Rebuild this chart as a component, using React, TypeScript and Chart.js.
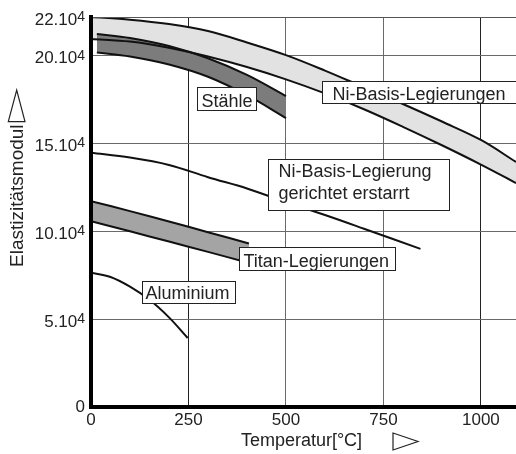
import React, { useEffect, useRef } from 'react';
import { Chart, registerables } from 'chart.js';

Chart.register(...registerables);

const FONT = '"Liberation Sans", Arial, Helvetica, sans-serif';

// ---- data: temperature (°C) and Young's modulus (N/mm²) ----
const STAHL_T = [15, 100, 200, 300, 400, 500];
const STAHL_MAX = [212300, 210000, 205500, 198500, 189000, 177000];
const STAHL_MIN = [201800, 199500, 195000, 188000, 177500, 164500];

const NI_T = [0, 100, 200, 300, 400, 500, 600, 700, 800, 900, 1000, 1090];
const NI_MAX = [222000, 220500, 218000, 214000, 207500, 200300, 191500, 182000, 172500, 162500, 152000, 139500];
const NI_MIN = [209500, 208000, 204500, 199500, 193500, 186500, 178500, 169500, 159500, 149000, 138000, 127500];

const NIDS_T = [0, 100, 200, 300, 400, 500, 600, 700, 845];
const NIDS_E = [144700, 142000, 137800, 130800, 124400, 116600, 109300, 101500, 90000];

const TI_T = [0, 100, 200, 300, 405];
const TI_MAX = [117200, 111500, 105600, 99500, 93100];
const TI_MIN = [105800, 100000, 94200, 88300, 82000];

const AL_T = [0, 50, 100, 150, 200, 248];
const AL_E = [76400, 74000, 68500, 61000, 51000, 39300];

const X_TICKS = [0, 250, 500, 750, 1000];
const Y_TICKS = [0, 50000, 100000, 150000, 200000, 222000];
const X_MAX = 1090;
const Y_MAX = 222000;

const X_TITLE = 'Temperatur[°C]';
const Y_TITLE = 'Elastizitätsmodul';

// label boxes (anchored at top-left corner, in data coordinates)
const LABEL_BOXES = [
  { text: ['Stähle'], x: 272, y: 182000, w: 59, h: 23, padL: 4, base: 19 },
  { text: ['Ni-Basis-Legierungen'], x: 592, y: 185600, w: 200, h: 22, padL: 10, base: 18 },
  { text: ['Ni-Basis-Legierung', 'gerichtet erstarrt'], x: 455, y: 141000, w: 181, h: 51, padL: 10, base: 17 },
  { text: ['Titan-Legierungen'], x: 380, y: 91000, w: 156, h: 23, padL: 4, base: 19 },
  { text: ['Aluminium'], x: 131, y: 71700, w: 93, h: 22, padL: 3, base: 17 },
];

const pts = (xs: number[], ys: number[]) => xs.map((x, i) => ({ x, y: ys[i] }));

const lineBase = {
  xAxisID: 'x',
  yAxisID: 'y',
  borderColor: '#111',
  borderWidth: 2,
  pointRadius: 0,
  tension: 0.35,
  fill: false as any,
};

const decorPlugin = {
  id: 'decor',
  afterDraw(chart: any) {
    const { ctx, scales } = chart;
    const xs = scales.x;
    const ys = scales.y;
    ctx.save();
    // y tick labels with exponent
    ctx.fillStyle = '#222';
    ctx.textAlign = 'right';
    ctx.textBaseline = 'alphabetic';
    const right = xs.left - 6;
    for (const v of Y_TICKS) {
      const py = ys.getPixelForValue(v);
      if (v === 0) {
        ctx.font = `17px ${FONT}`;
        ctx.fillText('0', right, py + 5);
        continue;
      }
      ctx.font = `14px ${FONT}`;
      const supW = ctx.measureText('4').width;
      ctx.fillText('4', right, py + 4);
      ctx.font = `17px ${FONT}`;
      ctx.fillText(`${Math.round(v / 10000)}.10`, right - supW, py + 7.6);
    }
    // label boxes
    for (const b of LABEL_BOXES) {
      const left = Math.round(xs.getPixelForValue(b.x)) + 0.5;
      const top = Math.round(ys.getPixelForValue(b.y)) + 0.5;
      ctx.fillStyle = '#fff';
      ctx.fillRect(left, top, b.w, b.h);
      ctx.strokeStyle = '#222';
      ctx.lineWidth = 1;
      ctx.strokeRect(left, top, b.w, b.h);
      ctx.fillStyle = '#222';
      ctx.font = `18px ${FONT}`;
      ctx.textAlign = 'left';
      ctx.textBaseline = 'alphabetic';
      b.text.forEach((t, i) => ctx.fillText(t, left + b.padL, top + b.base + i * 22));
    }
    // x title + arrow
    ctx.fillStyle = '#222';
    ctx.font = `18px ${FONT}`;
    ctx.textAlign = 'center';
    ctx.textBaseline = 'alphabetic';
    ctx.fillText(X_TITLE, 301.5, 446);
    ctx.strokeStyle = '#222';
    ctx.lineWidth = 1.2;
    ctx.beginPath();
    ctx.moveTo(393, 433);
    ctx.lineTo(393, 450);
    ctx.lineTo(418, 441.5);
    ctx.closePath();
    ctx.stroke();
    // y title + arrow
    ctx.save();
    ctx.translate(23.3, 267);
    ctx.rotate(-Math.PI / 2);
    ctx.font = `19px ${FONT}`;
    ctx.textAlign = 'left';
    ctx.fillText(Y_TITLE, 0, 0);
    ctx.restore();
    ctx.beginPath();
    ctx.moveTo(8.3, 121.7);
    ctx.lineTo(25, 121.7);
    ctx.lineTo(16.7, 90);
    ctx.closePath();
    ctx.stroke();
    ctx.restore();
  },
};

export default function App() {
  const ref = useRef<HTMLCanvasElement>(null);
  useEffect(() => {
    const chart = new Chart(ref.current as HTMLCanvasElement, {
      type: 'line',
      data: {
        datasets: [
          { ...lineBase, label: 'Stähle max', data: pts(STAHL_T, STAHL_MAX), fill: '+1', backgroundColor: '#7c7c7c' },
          { ...lineBase, label: 'Stähle min', data: pts(STAHL_T, STAHL_MIN) },
          { ...lineBase, label: 'Ni-Basis max', data: pts(NI_T, NI_MAX), fill: '+1', backgroundColor: '#e2e2e2' },
          { ...lineBase, label: 'Ni-Basis min', data: pts(NI_T, NI_MIN) },
          { ...lineBase, label: 'Titan max', data: pts(TI_T, TI_MAX), fill: '+1', backgroundColor: '#a4a4a4' },
          { ...lineBase, label: 'Titan min', data: pts(TI_T, TI_MIN) },
          { ...lineBase, label: 'Ni-Basis gerichtet erstarrt', data: pts(NIDS_T, NIDS_E) },
          { ...lineBase, label: 'Aluminium', data: pts(AL_T, AL_E) },
        ] as any,
      },
      options: {
        responsive: false,
        devicePixelRatio: 1,
        animation: false,
        layout: { padding: { top: 17, left: 0, right: 0, bottom: 0 } },
        plugins: {
          legend: { display: false },
          tooltip: { enabled: false },
          filler: { drawTime: 'beforeDatasetsDraw', propagate: false },
        } as any,
        scales: {
          x: {
            type: 'linear',
            position: 'bottom',
            min: 0,
            max: X_MAX,
            afterBuildTicks: (s: any) => { s.ticks = X_TICKS.map((v) => ({ value: v })); },
            afterFit: (s: any) => { s.height = 47; },
            grid: {
              color: (c: any) => (c.tick && (c.tick.value === 250 || c.tick.value === 1000) ? '#222' : '#6a6a6a'),
              lineWidth: 1,
              drawTicks: false,
            },
            border: { display: true, color: '#000', width: 4, z: 1 },
            ticks: {
              color: '#222',
              font: { family: FONT, size: 17 },
              padding: 3,
              maxRotation: 0,
              autoSkip: false,
              callback: (v: any) => String(v),
            },
          },
          xTop: {
            type: 'linear',
            position: 'top',
            grid: { display: false, drawTicks: false },
            ticks: { display: false },
            border: { display: true, color: '#555', width: 1, z: 1 },
            afterFit: (s: any) => { s.height = 0; },
          },
          y: {
            type: 'linear',
            min: 0,
            max: Y_MAX,
            afterBuildTicks: (s: any) => { s.ticks = Y_TICKS.map((v) => ({ value: v })); },
            afterFit: (s: any) => { s.width = 91; },
            grid: {
              color: (c: any) => (c.tick && c.tick.value === Y_MAX ? 'rgba(0,0,0,0)' : '#6a6a6a'),
              lineWidth: 1,
              drawTicks: false,
            },
            border: { display: true, color: '#000', width: 4, z: 1 },
            ticks: { display: false },
          },
        } as any,
      },
      plugins: [decorPlugin],
    });
    return () => chart.destroy();
  }, []);
  return (
    <div style={{ position: 'fixed', left: 0, top: 0, width: 516, height: 454, background: '#fff' }}>
      <canvas ref={ref} width={516} height={454} style={{ display: 'block', width: 516, height: 454 }} />
    </div>
  );
}
